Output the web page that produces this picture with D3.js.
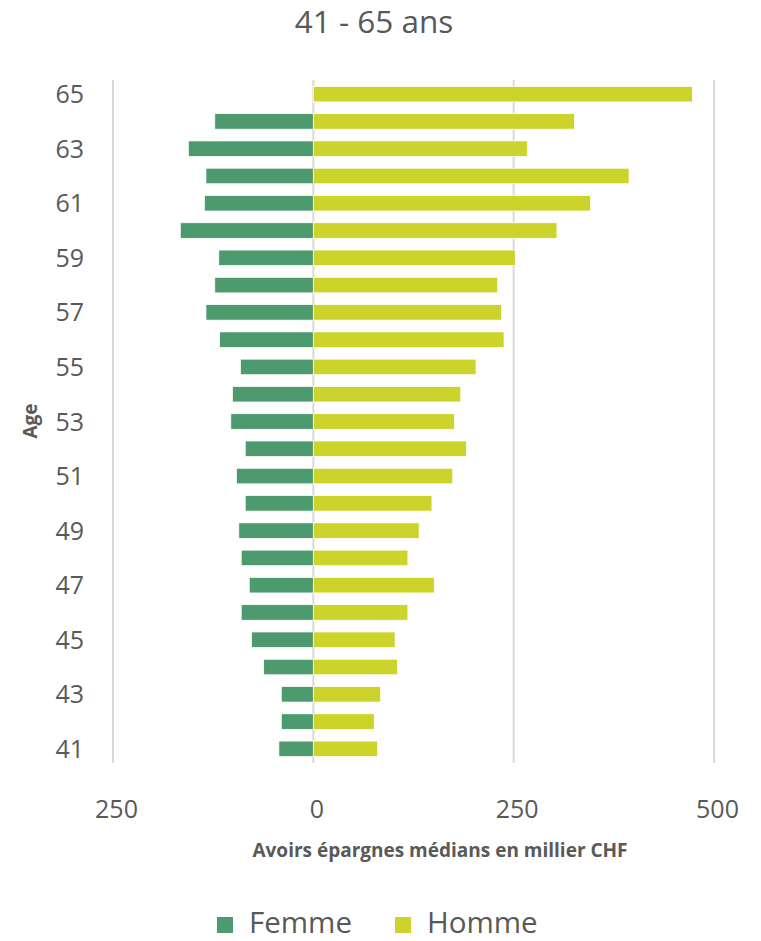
<!DOCTYPE html>
<html>
<head>
<meta charset="utf-8">
<script src="https://cdn.jsdelivr.net/npm/d3@7"></script>
<style>
  body { margin: 0; background: #fff; }
  text { font-family: "Open Sans", sans-serif; fill: #595959; }
</style>
</head>
<body>
<div id="chart"></div>
<script>
// Données, de 65 à 41 ans
const ages = [65, 64, 63, 62, 61, 60, 59, 58, 57, 56, 55, 54, 53, 52, 51, 50, 49, 48, 47, 46, 45, 44, 43, 42, 41];
const femme = [0, 123, 156, 134, 136, 166, 118, 123, 134, 117, 91, 101, 103, 85, 96, 85, 93, 90, 80, 90, 77, 62, 40, 40, 43];
const homme = [473, 326, 267, 394, 346, 304, 252, 230, 235, 238, 203, 184, 176, 191, 174, 148, 132, 118, 151, 118, 102, 105, 84, 76, 80];
const xTicks = [-250, 0, 250, 500];
const ageLabels = [65, 63, 61, 59, 57, 55, 53, 51, 49, 47, 45, 43, 41];

const width = 761, height = 941;
const colors = { Femme: "#4e9a6f", Homme: "#ccd32b" };

const svg = d3.select("#chart").append("svg")
  .attr("width", width)
  .attr("height", height);

const x = d3.scaleLinear().domain([-250, 500]).range([113, 714]);
const y = d3.scaleBand().domain(ages).range([80.5, 762.5]).paddingInner(0.43).paddingOuter(0.215);

// Titre
svg.append("text")
  .attr("x", 374).attr("y", 33)
  .attr("text-anchor", "middle")
  .style("font-size", "31.5px")
  .text("41 - 65 ans");

// Quadrillage vertical
svg.append("g").selectAll("line")
  .data(xTicks)
  .join("line")
  .attr("x1", d => x(d)).attr("x2", d => x(d))
  .attr("y1", 80).attr("y2", 763)
  .attr("stroke", "#d9d9d9")
  .attr("stroke-width", 2);

// Barres
const rows = ages.map((a, i) => ({ age: a, f: femme[i], h: homme[i] }));

svg.append("g").selectAll("rect")
  .data(rows.filter(d => d.f > 0))
  .join("rect")
  .attr("x", d => x(-d.f))
  .attr("y", d => y(d.age))
  .attr("width", d => x(0) - x(-d.f))
  .attr("height", y.bandwidth())
  .attr("fill", colors.Femme)
  .attr("stroke", "#fff").attr("stroke-width", 0.75);

svg.append("g").selectAll("rect")
  .data(rows)
  .join("rect")
  .attr("x", x(0))
  .attr("y", d => y(d.age))
  .attr("width", d => x(d.h) - x(0))
  .attr("height", y.bandwidth())
  .attr("fill", colors.Homme)
  .attr("stroke", "#fff").attr("stroke-width", 0.75);

// Étiquettes d'âge
svg.append("g").selectAll("text")
  .data(ageLabels)
  .join("text")
  .attr("x", 84)
  .attr("y", d => y(d) + y.bandwidth() / 2)
  .attr("dy", "0.36em")
  .attr("text-anchor", "end")
  .style("font-size", "25px")
  .text(d => d);

// Étiquettes de l'axe x (valeurs absolues)
svg.append("g").selectAll("text")
  .data(xTicks)
  .join("text")
  .attr("x", d => x(d) + 3.5)
  .attr("y", 818)
  .attr("text-anchor", "middle")
  .style("font-size", "25px")
  .text(d => Math.abs(d));

// Titres des axes
svg.append("text")
  .attr("x", 440).attr("y", 857)
  .attr("text-anchor", "middle")
  .style("font-size", "19px")
  .style("font-weight", "bold")
  .text("Avoirs épargnes médians en millier CHF");

svg.append("text")
  .attr("transform", "translate(37,421) rotate(-90)")
  .attr("text-anchor", "middle")
  .style("font-size", "19px")
  .style("font-weight", "bold")
  .text("Age");

// Légende
const legend = svg.append("g").selectAll("g")
  .data([["Femme", 217], ["Homme", 395]])
  .join("g")
  .attr("transform", d => `translate(${d[1]},917)`);

legend.append("rect")
  .attr("width", 16).attr("height", 16)
  .attr("fill", d => colors[d[0]]);

legend.append("text")
  .attr("x", 32).attr("y", 16)
  .style("font-size", "29.5px")
  .text(d => d[0]);
</script>
</body>
</html>
